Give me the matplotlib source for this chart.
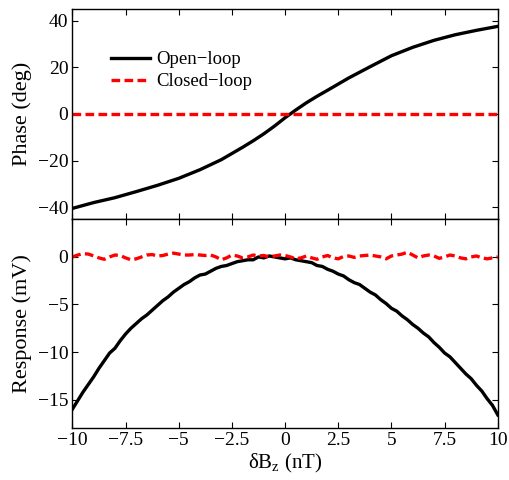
import numpy as np
import matplotlib
matplotlib.use("Agg")
import matplotlib.pyplot as plt

plt.rcParams['font.family'] = ['Liberation Serif', 'DejaVu Serif']
plt.rcParams['mathtext.fontset'] = 'custom'
plt.rcParams['mathtext.rm'] = 'Liberation Serif'
plt.rcParams['mathtext.it'] = 'Liberation Serif:italic'
plt.rcParams['font.size'] = 14

# phase, open loop
phase_x = [-10, -9, -8, -7, -6, -5, -4, -3, -2, -1.5, -1, -0.5, 0, 0.5,
           1, 1.5, 2, 3, 4, 5, 6, 7, 8, 9, 10]
phase_open = [-40.5, -38.0, -35.9, -33.3, -30.6, -27.6, -23.9, -19.6, -14.3,
              -11.5, -8.5, -5.2, -1.6, 1.7, 4.8, 7.6, 10.2, 15.5, 20.3,
              25.0, 28.6, 31.6, 34.0, 35.9, 37.6]
phase_closed = [0.0] * len(phase_x)

# response (bottom panel), sampled every 0.25 nT
resp_x = np.arange(-10, 10.01, 0.25)
resp_open = [-16.0, -15.1, -14.2, -13.4, -12.6, -11.7, -10.9, -10.1, -9.6,
             -8.8, -8.1, -7.5, -7.0, -6.5, -6.1, -5.6, -5.1, -4.6, -4.2,
             -3.7, -3.3, -2.9, -2.6, -2.2, -1.9, -1.8, -1.5, -1.2, -1.0,
             -0.9, -0.7, -0.5, -0.4, -0.3, -0.3, 0.0, -0.1, 0.1, 0.0,
             -0.1, -0.2, -0.1, -0.3, -0.4, -0.5, -0.6, -0.9, -1.0, -1.3,
             -1.5, -1.8, -2.0, -2.4, -2.7, -2.9, -3.3, -3.7, -4.0, -4.5,
             -4.9, -5.4, -5.7, -6.2, -6.6, -7.1, -7.5, -8.0, -8.4, -9.0,
             -9.5, -10.1, -10.5, -11.1, -11.7, -12.3, -12.8, -13.5, -14.1,
             -14.9, -15.6, -16.6]
resp_closed = [0.0, 0.2, 0.35, 0.3, 0.1, -0.1, -0.25, 0.0, 0.2, 0.15, -0.1,
               -0.3, -0.2, 0.0, 0.2, 0.25, 0.1, 0.15, 0.3, 0.4, 0.3, 0.2,
               0.2, 0.25, 0.2, 0.15, 0.2, 0.0, -0.3, -0.1, 0.2, 0.1, -0.1,
               0.0, 0.2, 0.1, 0.15, 0.0, 0.1, 0.2, 0.15, 0.0, -0.2, -0.1,
               0.1, -0.1, -0.25, 0.0, 0.15, -0.1, -0.2, 0.05, 0.1, -0.05,
               0.1, 0.15, 0.2, 0.1, 0.0, -0.2, 0.1, 0.2, 0.3, 0.5, 0.2,
               -0.1, 0.1, 0.2, 0.1, -0.15, 0.0, 0.2, 0.1, -0.1, -0.2, 0.0,
               0.1, -0.1, -0.2, -0.1, 0.0]

x_ticks = [-10, -7.5, -5, -2.5, 0, 2.5, 5, 7.5, 10]
x_ticklabels = ['\u221210', '\u22127.5', '\u22125', '\u22122.5', '0', '2.5',
                '5', '7.5', '10']

fig = plt.figure(figsize=(5.1, 4.8), dpi=100)
ax1 = fig.add_axes([0.142, 0.544, 0.834, 0.437])
ax2 = fig.add_axes([0.142, 0.108, 0.834, 0.436])

dash = (2.6, 1.3)

ax1.plot(phase_x, phase_open, color='black', lw=2.4, label='Open\u2212loop')
ax1.plot(phase_x, phase_closed, color='red', lw=2.4, dashes=dash,
         label='Closed\u2212loop')
ax1.set_ylim(-45, 45)
ax1.set_yticks([-40, -20, 0, 20, 40])
ax1.set_yticklabels(['\u221240', '\u221220', '0', '20', '40'])
ax1.set_ylabel('Phase (deg)', fontsize=16)
ax1.legend(loc='upper left', bbox_to_anchor=(0.05, 0.88), frameon=False,
           handlelength=2.1, handletextpad=0.35, labelspacing=0.25,
           fontsize=13.5)

ax2.plot(resp_x, resp_open, color='black', lw=2.4)
ax2.plot(resp_x, resp_closed, color='red', lw=2.4, dashes=dash)
ax2.set_ylim(-18, 4)
ax2.set_yticks([-15, -10, -5, 0])
ax2.set_yticklabels(['\u221215', '\u221210', '\u22125', '0'])
ax2.set_ylabel('Response (mV)', fontsize=16)
ax2.set_xlabel('\u03b4B$_\\mathrm{z}$ (nT)', fontsize=15, labelpad=2)

for ax in (ax1, ax2):
    ax.set_xlim(-10, 10)
    ax.set_xticks(x_ticks)
    ax.tick_params(direction='in', top=True, right=True, length=4,
                   width=0.8, labelsize=14, pad=3)
    for s in ax.spines.values():
        s.set_linewidth(1.0)
    ax.yaxis.set_label_coords(-0.095, 0.5)

ax1.set_xticklabels([])
ax2.set_xticklabels(x_ticklabels)

fig.savefig('out.png', dpi=100)
